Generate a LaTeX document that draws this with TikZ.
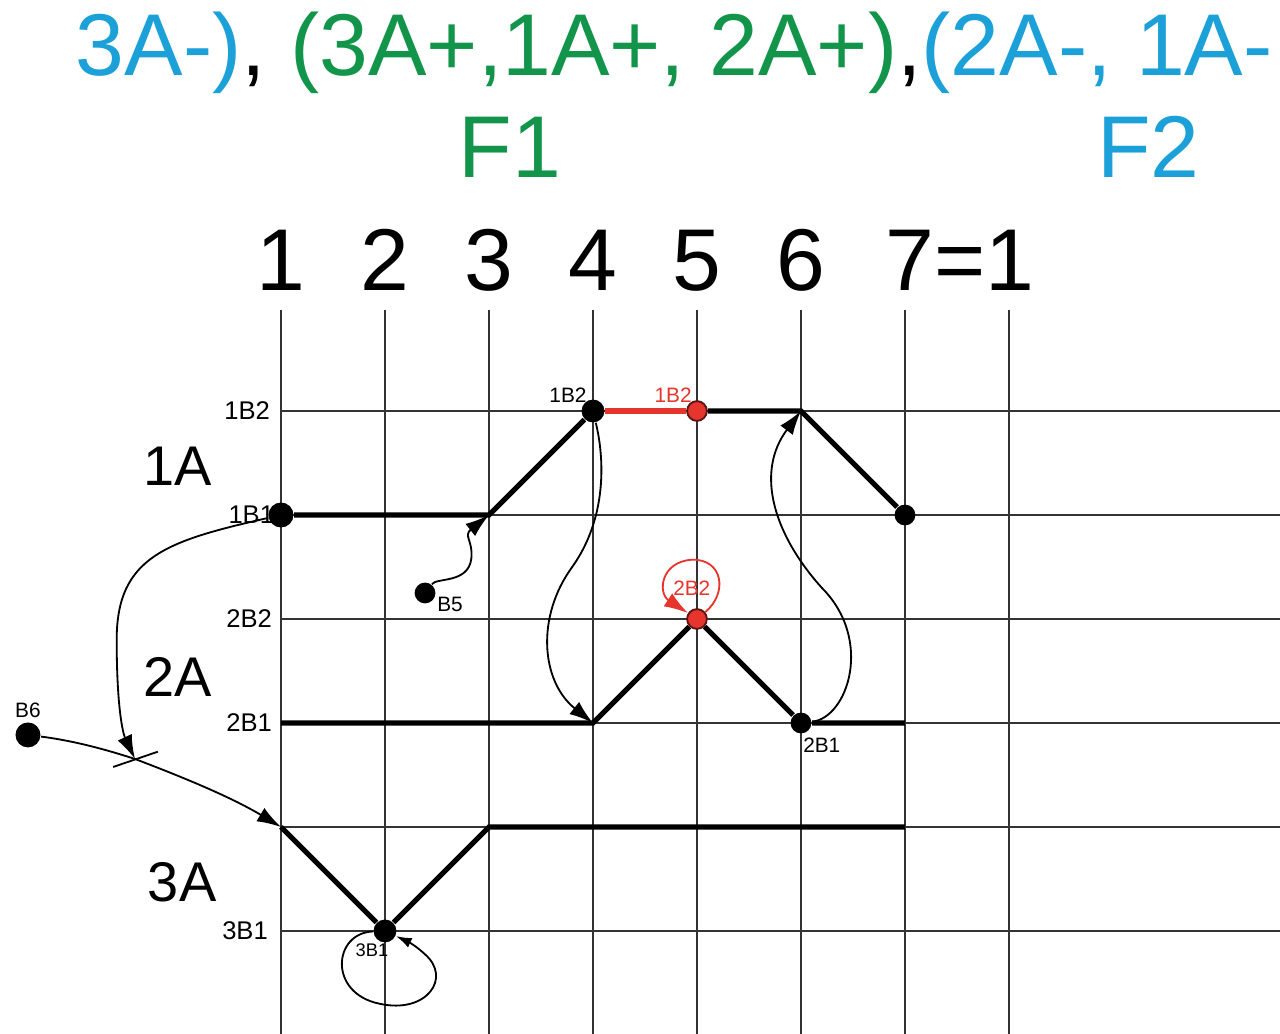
\documentclass[tikz,border=0pt]{standalone}
\usepackage{fontspec}
\setmainfont{Liberation Sans}
\usetikzlibrary{arrows.meta}
\definecolor{cCyan}{HTML}{1BA0D8}
\definecolor{cGreen}{HTML}{12954A}
\definecolor{cRed}{HTML}{E5352C}
\definecolor{cGrid}{HTML}{333333}
\tikzset{
  gridline/.style={draw=cGrid, line width=0.55pt},
  track/.style={line width=1.4pt},
  link/.style={-{Latex[length=2.3mm,width=1.5mm]}, line width=0.5pt},
  bdot/.style={circle, fill=black, inner sep=0pt, minimum size=2.2mm},
  rdot/.style={circle, fill=cRed, draw=black!60!cRed, line width=0.5pt, inner sep=0pt, minimum size=1.9mm},
  rowlbl/.style={font=\fontsize{7}{8}\selectfont, anchor=east, inner sep=0pt},
  ptlbl/.style={font=\fontsize{5.7}{7}\selectfont, inner sep=0pt},
  bigtxt/.style={font=\fontsize{24}{28}\selectfont, inner sep=0pt},
  grptxt/.style={font=\fontsize{15.3}{18}\selectfont, inner sep=0pt, anchor=base},
}

\begin{document}
\begin{tikzpicture}
  \useasboundingbox (-2.702,-5.99) rectangle (9.606,3.952);
  % heading
  \node[bigtxt, anchor=base west] (head) at (-1.98,3.23)
    {{\color{cCyan}3A-)}, {\color{cGreen}(3A+,1A+, 2A+)},{\color{cCyan}(2A-, 1A-}};
  \node[bigtxt, anchor=base, cGreen] (f1) at (2.2,2.25) {F1};
  \node[bigtxt, anchor=base, cCyan] (f2) at (8.34,2.25) {F2};
  \foreach \i in {1,...,6}
    \node[bigtxt, anchor=base] (col\i) at (\i-1,1.163) {\i};
  \node[bigtxt, anchor=base] (col7) at (6.53,1.163) {7=1};

  % grid
  \foreach \x in {0,...,7}
    \draw[gridline] (\x,0.97) -- (\x,-6);
  \foreach \y in {0,...,5}
    \draw[gridline] (0,-\y) -- (9.7,-\y);

  % row and group labels
  \node[rowlbl] (r1b2) at (-0.1,0) {1B2};
  \node[rowlbl] (r1b1) at (-0.06,-1) {1B1};
  \node[rowlbl] (r2b2) at (-0.08,-2) {2B2};
  \node[rowlbl] (r2b1) at (-0.08,-3) {2B1};
  \node[rowlbl] (r3b1) at (-0.12,-5) {3B1};
  \node[grptxt] (g1a) at (-0.99,-0.712) {1A};
  \node[grptxt] (g2a) at (-0.995,-2.75) {2A};
  \node[grptxt] (g3a) at (-0.95,-4.72) {3A};

  % points
  \node[bdot, minimum size=2.4mm] (n1b1) at (0,-1) {};
  \node[bdot] (n1b2) at (3,0) {};
  \node[rdot] (n1b2r) at (4,0) {};
  \node[bdot, minimum size=2mm] (n1end) at (6,-1) {};
  \node[rdot] (n2b2) at (4,-2) {};
  \node[bdot, minimum size=2mm] (n2b1) at (5,-3) {};
  \node[bdot] (n3b1) at (1,-5) {};
  \node[bdot, minimum size=2mm] (nb5) at (1.385,-1.75) {};
  \node[bdot, minimum size=2.4mm] (nb6) at (-2.433,-3.115) {};
  \coordinate (c1a) at (2,-1);
  \coordinate (c1c) at (5,0);
  \coordinate (c2a) at (3,-3);
  \coordinate (c3a) at (0,-4);
  \coordinate (cross) at (-1.404,-3.346);

  \node[ptlbl] (l1b2) at (2.76,0.154) {1B2};
  \node[ptlbl, cRed] (l1b2r) at (3.77,0.154) {1B2};
  \node[ptlbl, cRed] (l2b2) at (3.95,-1.70) {2B2};
  \node[ptlbl] (l2b1) at (5.2,-3.21) {2B1};
  \node[ptlbl] (lb5) at (1.625,-1.856) {B5};
  \node[ptlbl] (lb6) at (-2.433,-2.875) {B6};
  \node[ptlbl, font=\fontsize{5}{6}\selectfont] (l3b1) at (0.875,-5.183) {3B1};

  % tracks
  \draw[track] (n1b1) -- (c1a) -- (n1b2);
  \draw[track, cRed] (n1b2) -- (n1b2r);
  \draw[track] (n1b2r) -- (c1c) -- (n1end);
  \draw[track] (0,-3) -- (c2a) -- (n2b2) -- (n2b1) -- (6,-3);
  \draw[track] (c3a) -- (n3b1) -- (2,-4) -- (6,-4);

  % moves
  \draw[link] (nb6) .. controls (-2.0,-3.17) and (-1.7,-3.25) .. (cross)
    .. controls (-1.0,-3.5) and (-0.5,-3.7) .. (c3a);
  \draw[line width=0.5pt] ([shift={(-0.21,-0.077)}]cross) -- ([shift={(0.22,0.07)}]cross);
  \draw[link] (n1b1) .. controls (-1.1,-1.25) and (-1.58,-1.4) .. (-1.58,-2.2)
    .. controls (-1.58,-2.85) and (-1.52,-3.1) .. (cross);
  \draw[link] (nb5) .. controls (1.5,-1.6) and (1.8,-1.66) .. (1.83,-1.42)
    .. controls (1.85,-1.25) and (1.75,-1.2) .. (c1a);
  \draw[link] (n1b2) .. controls (3.12,-0.5) and (3.12,-1.05) .. (2.8,-1.5)
    .. controls (2.45,-1.98) and (2.5,-2.6) .. (c2a);
  \draw[link] (n2b1) .. controls (5.45,-2.95) and (5.7,-2.2) .. (5.2,-1.7)
    .. controls (4.75,-1.2) and (4.55,-0.6) .. (c1c);
  \draw[link, cRed] (n2b2) .. controls (4.3,-1.75) and (4.25,-1.42) .. (3.95,-1.43)
    .. controls (3.65,-1.45) and (3.62,-1.75) .. (n2b2);
  \draw[link, -{Latex[length=1.5mm,width=1mm]}] (n3b1) .. controls (0.5,-5.02) and (0.45,-5.6) .. (0.95,-5.7)
    .. controls (1.4,-5.8) and (1.65,-5.45) .. (1.38,-5.22)
    .. controls (1.25,-5.1) and (1.15,-5.07) .. (n3b1);
\end{tikzpicture}
\end{document}
